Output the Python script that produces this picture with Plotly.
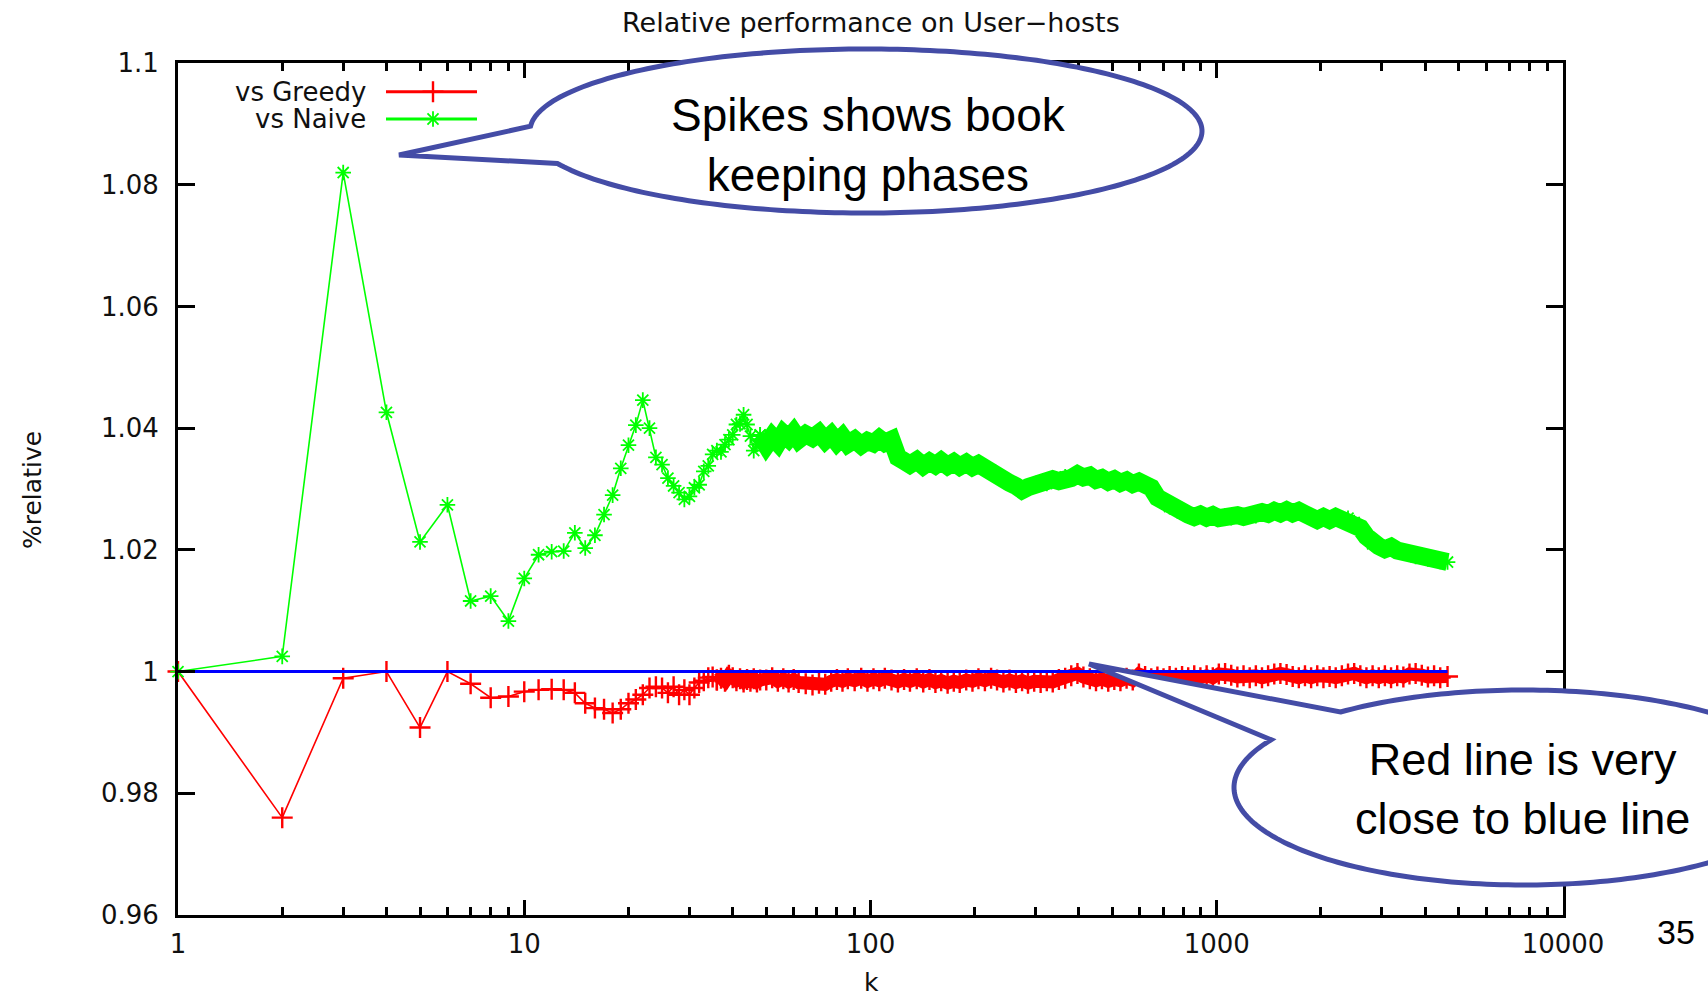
import numpy as np
import plotly.graph_objects as go

# ---- data -------------------------------------------------------------
# k: every k up to 48, then a log-spaced sample of the long tail
k = [1, 2, 3, 4, 5, 6, 7, 8, 9, 10, 11, 12, 13, 14, 15, 16, 17, 18, 19, 20,
     21, 22, 23, 24, 25, 26, 27, 28, 29, 30, 31, 32, 33, 34, 35, 36, 37, 38,
     39, 40, 41, 42, 43, 44, 45, 46, 47, 48,
     50, 52, 54, 56, 58, 60, 62, 65, 68, 71, 74, 77, 80, 83, 86, 90, 94, 98,
     102, 106, 110, 115, 120, 125, 130, 136, 142, 148, 154, 160, 167, 174,
     181, 189, 197, 205, 214, 223, 232, 242, 252, 263, 274, 285, 297, 310,
     323, 336, 350, 365, 380, 396, 412, 430, 448, 466, 486, 506, 527, 549,
     572, 596, 621, 647, 674, 702, 731, 762, 794, 827, 861, 897, 935, 974,
     1014, 1057, 1101, 1147, 1195, 1245, 1297, 1351, 1407, 1466, 1527, 1591,
     1657, 1726, 1798, 1873, 1951, 2033, 2118, 2206, 2298, 2394, 2494, 2598,
     2706, 2819, 2937, 3059, 3187, 3320, 3459, 3603, 3753, 3910, 4073, 4243,
     4420, 4640]

vs_naive = [1.0000, 1.0025, 1.0820, 1.0426, 1.0213, 1.0274, 1.0116, 1.0124,
            1.0083, 1.0153, 1.0192, 1.0197, 1.0198, 1.0228, 1.0203, 1.0224,
            1.0258, 1.0290, 1.0334, 1.0372, 1.0405, 1.0446, 1.0400, 1.0352,
            1.0340, 1.0318, 1.0305, 1.0294, 1.0283, 1.0288, 1.0302, 1.0307,
            1.0329, 1.0338, 1.0357, 1.0363, 1.0361, 1.0373, 1.0381, 1.0389,
            1.0406, 1.0407, 1.0422, 1.0406, 1.0387, 1.0363, 1.0373, 1.0389,
            1.0372, 1.0386, 1.0376, 1.0391, 1.0383, 1.0393, 1.0381, 1.0390,
            1.0384, 1.0392, 1.0380, 1.0389, 1.0377, 1.0386, 1.0374, 1.0381,
            1.0372, 1.0379, 1.0375, 1.0383, 1.0376, 1.0381, 1.0352, 1.0346,
            1.0340, 1.0347, 1.0338, 1.0345, 1.0339, 1.0346, 1.0338, 1.0344,
            1.0337, 1.0343, 1.0336, 1.0341, 1.0333, 1.0330, 1.0322, 1.0318,
            1.0310, 1.0305, 1.0298, 1.0303, 1.0306, 1.0312, 1.0309, 1.0316,
            1.0313, 1.0320, 1.0318, 1.0324, 1.0319, 1.0322, 1.0315, 1.0318,
            1.0312, 1.0316, 1.0310, 1.0314, 1.0308, 1.0312, 1.0306, 1.0302,
            1.0286, 1.0279, 1.0271, 1.0268, 1.0261, 1.0258, 1.0254, 1.0258,
            1.0253, 1.0257, 1.0252, 1.0256, 1.0253, 1.0257, 1.0254, 1.0258,
            1.0256, 1.0262, 1.0259, 1.0264, 1.0260, 1.0265, 1.0260, 1.0264,
            1.0259, 1.0255, 1.0249, 1.0254, 1.0249, 1.0254, 1.0249, 1.0252,
            1.0245, 1.0236, 1.0222, 1.0210, 1.0206, 1.0201, 1.0205, 1.0199,
            1.0196, 1.0193, 1.0189, 1.0191, 1.0185, 1.0187, 1.0181, 1.0180]

vs_greedy = [1.0000, 0.9760, 0.9989, 1.0000, 0.9908, 1.0000, 0.9980, 0.9957,
             0.9959, 0.9967, 0.9970, 0.9971, 0.9970, 0.9965, 0.9948, 0.9940,
             0.9938, 0.9932, 0.9938, 0.9948, 0.9954, 0.9962, 0.9973, 0.9975,
             0.9973, 0.9965, 0.9975, 0.9962, 0.9970, 0.9962, 0.9973, 0.9982,
             0.9985, 0.9990, 0.9991, 0.9986, 0.9989, 0.9984, 0.9994, 0.9990,
             0.9985, 0.9988, 0.9983, 0.9987, 0.9984, 0.9988, 0.9983, 0.9986,
             0.9986, 0.9990, 0.9984, 0.9988, 0.9983, 0.9987, 0.9982, 0.9980,
             0.9978, 0.9981, 0.9979, 0.9984, 0.9987, 0.9984, 0.9988, 0.9985,
             0.9989, 0.9984, 0.9988, 0.9985, 0.9989, 0.9986, 0.9983, 0.9987,
             0.9984, 0.9988, 0.9983, 0.9987, 0.9982, 0.9985, 0.9981, 0.9984,
             0.9982, 0.9986, 0.9984, 0.9988, 0.9985, 0.9989, 0.9986, 0.9983,
             0.9986, 0.9982, 0.9985, 0.9981, 0.9984, 0.9982, 0.9985, 0.9983,
             0.9987, 0.9989, 0.9993, 0.9997, 0.9991, 0.9988, 0.9985, 0.9988,
             0.9984, 0.9987, 0.9985, 0.9989, 0.9986, 0.9996, 0.9992, 0.9988,
             0.9991, 0.9988, 0.9992, 0.9989, 0.9992, 0.9990, 0.9993, 0.9990,
             0.9993, 0.9990, 0.9996, 0.9997, 0.9994, 0.9991, 0.9993, 0.9990,
             0.9993, 0.9990, 0.9993, 0.9996, 0.9997, 0.9995, 0.9992, 0.9990,
             0.9993, 0.9990, 0.9993, 0.9990, 0.9992, 0.9990, 0.9993, 0.9996,
             0.9997, 0.9993, 0.9990, 0.9993, 0.9990, 0.9993, 0.9990, 0.9993,
             0.9991, 0.9996, 0.9997, 0.9994, 0.9991, 0.9993, 0.9990, 0.9992]

# reference level (ratio of 1)
ref_k = [1, 4640]
ref_val = [1.0, 1.0]

assert len(k) == len(vs_naive) == len(vs_greedy)

x_tick_vals = [1, 10, 100, 1000, 10000]
x_tick_text = ["1", "10", "100", "1000", "10000"]
y_tick_vals = [0.96, 0.98, 1.00, 1.02, 1.04, 1.06, 1.08, 1.10]
y_tick_text = ["0.96", "0.98", "1", "1.02", "1.04", "1.06", "1.08", "1.1"]

# ---- geometry helpers (page pixels -> paper coordinates) -------------
W, H = 1708, 999
L, R, T, B = 178, 1563, 63, 915


def px(x):
    return (x - L) / (R - L)


def py(y):
    return (B - y) / (B - T)


RED = "#ff0000"
GREEN = "#00ff00"
BLUE = "#0000ff"
INK = "#101010"
GNU_FONT = "DejaVu Sans"
SLIDE_FONT = "Liberation Sans"

red_marker = dict(symbol="cross-thin", size=15, line=dict(width=2.4, color=RED))
green_marker = dict(symbol="asterisk", size=13, line=dict(width=1.8, color=GREEN))

RS = k.index(36)   # where the greedy curve becomes a solid band
GS = k.index(48)   # where the naive curve becomes a solid band

fig = go.Figure()

fig.add_trace(go.Scatter(x=k[:RS + 1], y=vs_greedy[:RS + 1], mode="lines+markers",
                         line=dict(color=RED, width=1.6), marker=red_marker,
                         cliponaxis=False))
fig.add_trace(go.Scatter(x=k[RS:], y=vs_greedy[RS:], mode="lines+markers",
                         line=dict(color=RED, width=13), marker=red_marker,
                         cliponaxis=False))
fig.add_trace(go.Scatter(x=k[:GS + 1], y=vs_naive[:GS + 1], mode="lines+markers",
                         line=dict(color=GREEN, width=1.6), marker=green_marker,
                         cliponaxis=False))
fig.add_trace(go.Scatter(x=k[GS:], y=vs_naive[GS:], mode="lines+markers",
                         line=dict(color=GREEN, width=18), marker=green_marker,
                         cliponaxis=False))
fig.add_trace(go.Scatter(x=ref_k, y=ref_val, mode="lines",
                         line=dict(color=BLUE, width=3)))

# key samples drawn on an overlay axis spanning the plot area
for yk, color, mk in ((py(91.7), RED, red_marker), (py(119), GREEN, green_marker)):
    fig.add_trace(go.Scatter(x=[px(386), px(477)], y=[yk, yk], mode="lines",
                             line=dict(color=color, width=3), xaxis="x2", yaxis="y2"))
    fig.add_trace(go.Scatter(x=[px(433)], y=[yk], mode="markers", marker=mk,
                             xaxis="x2", yaxis="y2"))

minor_vals = [m * 10 ** d for d in range(4) for m in range(2, 10)]

fig.update_layout(
    width=W, height=H,
    margin=dict(l=L, r=W - R, t=T, b=H - B),
    plot_bgcolor="white", paper_bgcolor="white",
    showlegend=False,
    xaxis=dict(type="log", range=[0, 4], showgrid=False, zeroline=False,
               showline=True, linecolor="black", linewidth=3, mirror="ticks",
               ticks="inside", ticklen=15, tickwidth=2.5, tickcolor="black",
               tickvals=x_tick_vals, ticktext=x_tick_text,
               tickfont=dict(family=GNU_FONT, size=26, color=INK),
               ticklabelstandoff=4,
               minor=dict(ticks="inside", ticklen=8, tickwidth=2.5,
                          tickcolor="black", tickvals=minor_vals, showgrid=False)),
    yaxis=dict(range=[0.96, 1.10], showgrid=False, zeroline=False,
               showline=True, linecolor="black", linewidth=3, mirror="ticks",
               ticks="inside", ticklen=17, tickwidth=3, tickcolor="black",
               tickvals=y_tick_vals, ticktext=y_tick_text,
               tickfont=dict(family=GNU_FONT, size=26, color=INK),
               ticklabelstandoff=11),
    xaxis2=dict(overlaying="x", range=[0, 1], visible=False, fixedrange=True),
    yaxis2=dict(overlaying="y", range=[0, 1], visible=False, fixedrange=True),
)

# ---- speech bubbles ---------------------------------------------------
def bubble(cx, cy, rx, ry, t0, t1, tip):
    t = np.linspace(t0, t1, 240)
    pts = list(zip(cx + rx * np.cos(t), cy + ry * np.sin(t))) + [tip]
    d = "M " + " L ".join(f"{px(x):.5f},{py(y):.5f}" for x, y in pts) + " Z"
    return dict(type="path", path=d, xref="paper", yref="paper", layer="above",
                fillcolor="white", line=dict(color="rgb(68,76,166)", width=5))


fig.add_shape(bubble(866, 131, 336, 82, 3.20, 2.735 + 2 * np.pi, (399, 155)))
fig.add_shape(bubble(1524, 787.5, 290, 97.5, 4.027, 3.653 + 2 * np.pi, (1089, 664)))

# ---- text -------------------------------------------------------------
def label(text, x, y, size, family, xanchor="center", angle=0, color=INK):
    fig.add_annotation(text=text, x=px(x), y=py(y), xref="paper", yref="paper",
                       xanchor=xanchor, yanchor="middle", showarrow=False,
                       textangle=angle, font=dict(family=family, size=size, color=color))


label("Relative performance on User\u2212hosts", 871, 22, 27, GNU_FONT)
label("k", 871, 982, 25, GNU_FONT)
label("%relative", 33, 490, 25, GNU_FONT, angle=-90)
label("vs Greedy", 368, 91.7, 26, GNU_FONT, xanchor="right")
label("vs Naive", 368, 119, 26, GNU_FONT, xanchor="right")

label("Spikes shows book<br>keeping phases", 868, 145, 46, SLIDE_FONT, color="black")
label("Red line is very<br>close to blue line", 1522, 789, 45, SLIDE_FONT, color="black")
label("35", 1676, 932, 34, SLIDE_FONT, color="black")

fig.write_html("out.html")
